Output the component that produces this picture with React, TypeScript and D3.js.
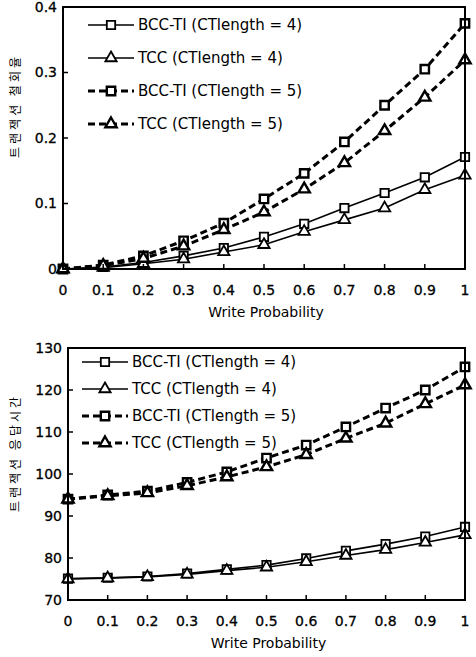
import React from 'react'
import * as d3 from 'd3'

// x values shared by both charts
const writeProb = [0, 0.1, 0.2, 0.3, 0.4, 0.5, 0.6, 0.7, 0.8, 0.9, 1]

// top chart: abort rate
const abortBccTi4 = [0, 0.003, 0.01, 0.02, 0.032, 0.049, 0.069, 0.093, 0.116, 0.14, 0.171]
const abortTcc4 = [0, 0.002, 0.008, 0.015, 0.026, 0.037, 0.057, 0.075, 0.093, 0.121, 0.143]
const abortBccTi5 = [0, 0.006, 0.02, 0.043, 0.07, 0.107, 0.146, 0.194, 0.25, 0.305, 0.375]
const abortTcc5 = [0, 0.005, 0.016, 0.035, 0.06, 0.087, 0.122, 0.162, 0.211, 0.262, 0.319]

// bottom chart: response time
const respBccTi4 = [75.1, 75.3, 75.6, 76.3, 77.3, 78.3, 79.9, 81.7, 83.3, 85.1, 87.4]
const respTcc4 = [75, 75.2, 75.5, 76.1, 77, 77.8, 79.1, 80.6, 82, 83.7, 85.5]
const respBccTi5 = [94, 95, 95.9, 98, 100.5, 103.8, 106.9, 111.2, 115.7, 120, 125.5]
const respTcc5 = [94, 94.8, 95.5, 97.2, 99.3, 101.7, 104.6, 108.5, 112.1, 116.7, 121.2]

const seriesNames = ['BCC-TI (CTlength = 4)', 'TCC (CTlength = 4)', 'BCC-TI (CTlength = 5)', 'TCC (CTlength = 5)']
const seriesMarkers = ['square', 'triangle', 'square', 'triangle']
const seriesDashed = [false, false, true, true]

const xTicks = [0, 0.1, 0.2, 0.3, 0.4, 0.5, 0.6, 0.7, 0.8, 0.9, 1]
const abortTicks = [0, 0.1, 0.2, 0.3, 0.4]
const respTicks = [70, 80, 90, 100, 110, 120, 130]

const FONT = '"DejaVu Sans", Verdana, sans-serif'

function Marker({ kind, x, y, dashed }: { kind: string, x: number, y: number, dashed: boolean }) {
    var sym = kind === 'square' ? d3.symbolSquare : d3.symbolTriangle
    var size = kind === 'square' ? 70 : 55
    var d = d3.symbol().type(sym).size(size)()
    return (
        <path d={d || ''} transform={`translate(${x},${y})`} fill="#fff" stroke="#000"
            strokeWidth={dashed ? 2.4 : 1.8} />
    )
}

function Chart(props: any) {
    var { top, bottom, left, right, yDomain, yTicks, yFormat, series, yLabel, yLabelY,
        legendX, legendTop, legendStep, labelSpacing } = props

    var xScale = d3.scaleLinear().domain([0, 1]).range([left, right])
    var yScale = d3.scaleLinear().domain(yDomain).range([bottom, top])

    var line = d3.line<number>()
        .x((d, i) => xScale(writeProb[i]))
        .y(d => yScale(d))

    return (
        <g fontFamily={FONT}>
            {/* series lines */}
            {series.map((vals: number[], s: number) => (
                <path key={'l' + s} d={line(vals) || ''} fill="none" stroke="#000"
                    strokeWidth={seriesDashed[s] ? 3 : 1.6}
                    strokeDasharray={seriesDashed[s] ? '7,4' : undefined} />
            ))}
            {/* markers */}
            {series.map((vals: number[], s: number) => vals.map((v, i) => (
                <Marker key={'m' + s + '-' + i} kind={seriesMarkers[s]} dashed={seriesDashed[s]}
                    x={xScale(writeProb[i])} y={yScale(v)} />
            )))}

            {/* frame */}
            <rect x={left} y={top} width={right - left} height={bottom - top}
                fill="none" stroke="#000" strokeWidth={2} />

            {/* y ticks */}
            {yTicks.map((t: number) => (
                <g key={'y' + t}>
                    <line x1={left} x2={left + 5} y1={yScale(t)} y2={yScale(t)} stroke="#000" strokeWidth={1.5} />
                    <text x={left - 6} y={yScale(t)} dy="0.35em" textAnchor="end" fontSize={14}
                        stroke="#000" strokeWidth={0.3}>{yFormat(t)}</text>
                </g>
            ))}

            {/* x ticks */}
            {xTicks.map(t => (
                <g key={'x' + t}>
                    <line x1={xScale(t)} x2={xScale(t)} y1={bottom} y2={bottom - 5} stroke="#000" strokeWidth={1.5} />
                    <text x={xScale(t)} y={bottom + 21} dy="0.35em" textAnchor="middle" fontSize={14}
                        stroke="#000" strokeWidth={0.3}>{d3.format('~g')(t)}</text>
                </g>
            ))}

            {/* x title */}
            <text x={(left + right) / 2 + 2} y={bottom + 43} dy="0.35em" textAnchor="middle" fontSize={14}>Write Probability</text>

            {/* y title */}
            <text transform={`translate(16,${yLabelY}) rotate(-90)`} textAnchor="middle" dy="0.35em"
                fontSize={12} letterSpacing={labelSpacing}
                fontFamily='"Noto Sans CJK KR", sans-serif' fill="#000">{yLabel}</text>

            {/* legend */}
            {seriesNames.map((name, s) => {
                var ly = legendTop + s * legendStep
                return (
                    <g key={'lg' + s}>
                        <line x1={legendX} x2={legendX + 46} y1={ly} y2={ly} stroke="#000"
                            strokeWidth={seriesDashed[s] ? 3 : 1.6}
                            strokeDasharray={seriesDashed[s] ? '7,4' : undefined} />
                        <Marker kind={seriesMarkers[s]} dashed={seriesDashed[s]} x={legendX + 23} y={ly} />
                        <text x={legendX + 50} y={ly} dy="0.35em" fontSize={15}>{name}</text>
                    </g>
                )
            })}
        </g>
    )
}

export default function App() {
    return (
        <svg width={476} height={657} style={{ position: 'absolute', left: 0, top: 0, background: '#fff' }}>
            <Chart top={7} bottom={269} left={63} right={465}
                yDomain={[0, 0.4]} yTicks={abortTicks}
                yFormat={(t: number) => d3.format('~g')(t)}
                series={[abortBccTi4, abortTcc4, abortBccTi5, abortTcc5]}
                yLabel="트랜잭션 철회율" yLabelY={106} labelSpacing={3}
                legendX={88} legendTop={25} legendStep={33} />
            <Chart top={348} bottom={600} left={68} right={465}
                yDomain={[70, 130]} yTicks={respTicks}
                yFormat={(t: number) => String(t)}
                series={[respBccTi4, respTcc4, respBccTi5, respTcc5]}
                yLabel="트랜잭션 응답시간" yLabelY={453} labelSpacing={3}
                legendX={82} legendTop={362} legendStep={27} />
        </svg>
    )
}
